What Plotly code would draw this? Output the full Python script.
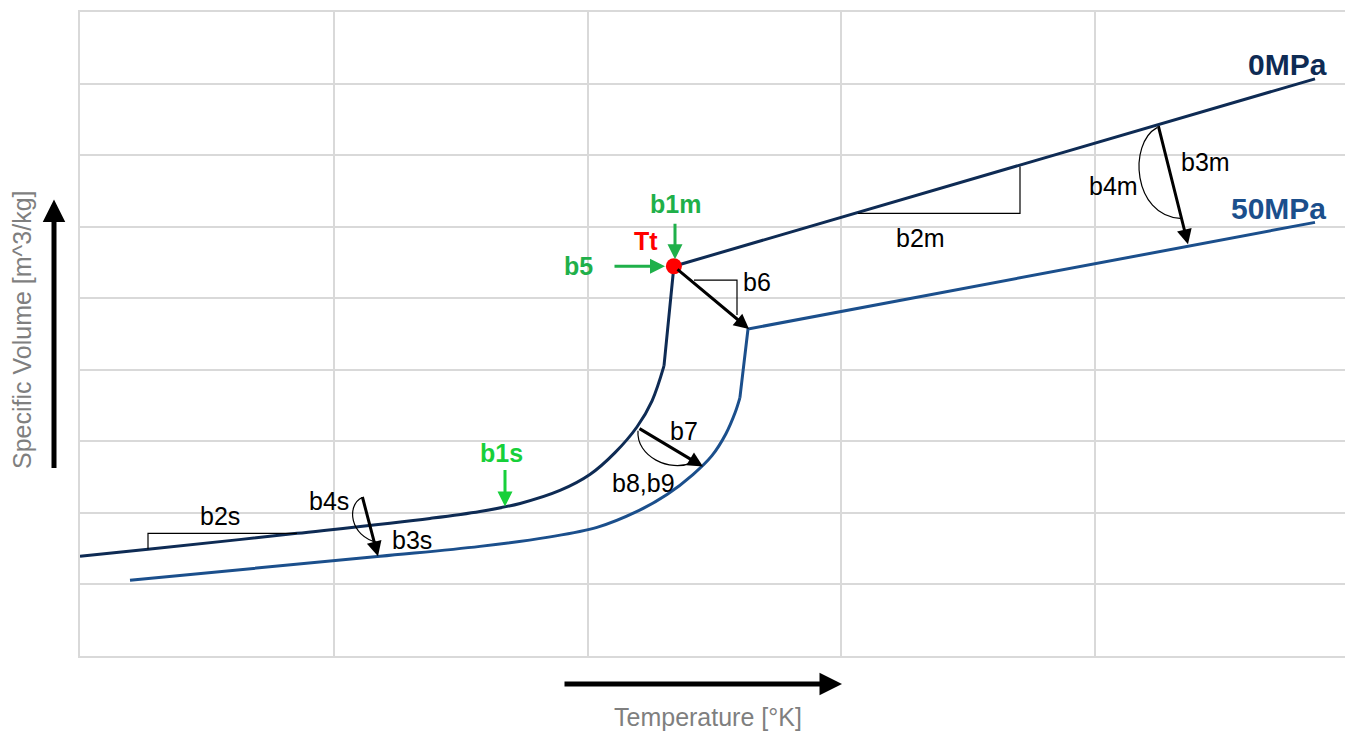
import plotly.graph_objects as go

# ---- data (schematic units: x 0..5, y 0..9) ----
low0_x = [0.000, 0.268, 0.855, 1.379, 1.576, 1.734, 1.891, 2.009, 2.108, 2.195, 2.254, 2.301]
low0_y = [1.393, 1.491, 1.714, 1.923, 2.020, 2.132, 2.313, 2.536, 2.842, 3.204, 3.567, 4.054]
high0_x = [2.301, 2.340, 4.866]
high0_y = [4.054, 5.447, 8.066]

low50_x = [0.197, 1.182, 1.576, 1.840, 2.037, 2.195, 2.313, 2.415, 2.490, 2.545, 2.581, 2.600]
low50_y = [1.059, 1.393, 1.532, 1.658, 1.797, 2.020, 2.257, 2.536, 2.800, 3.107, 3.399, 3.608]
high50_x = [2.600, 2.632, 4.866]
high50_y = [3.608, 4.570, 6.060]

tt_x = [2.340]
tt_y = [5.447]

C0 = "#0e2b54"
C50 = "#1b4f8c"
GREEN = "#1fb04a"
GREEN2 = "#17d03a"
FONT = "Liberation Sans, Arial, sans-serif"

# page offset from default body margin
OFF = 8
W, H = 1353 - OFF, 734 - OFF
# plot-area pixel geometry in page pixels (for placing annotations)
L, R, T, B = 80, 1349, 10, 656
def dx(px):
    return (px - L) / (R - L) * 5
def dy(py):
    return (B - py) / (B - T) * 9
def px_(px):
    return (px - L) / (R - L)
def py_(py):
    return (B - py) / (B - T)

fig = go.Figure()
fig.add_trace(go.Scatter(x=low0_x, y=low0_y, mode="lines", line=dict(color=C0, width=3, shape="spline", smoothing=1.0), hoverinfo="skip"))
fig.add_trace(go.Scatter(x=high0_x, y=high0_y, mode="lines", line=dict(color=C0, width=3), hoverinfo="skip"))
fig.add_trace(go.Scatter(x=low50_x, y=low50_y, mode="lines", line=dict(color=C50, width=3, shape="spline", smoothing=1.0), hoverinfo="skip"))
fig.add_trace(go.Scatter(x=high50_x, y=high50_y, mode="lines", line=dict(color=C50, width=3), hoverinfo="skip"))

anns = []
def label(text, px, py, color="black", bold=False, size=25):
    t = "<b>%s</b>" % text if bold else text
    anns.append(dict(x=dx(px), y=dy(py), text=t, showarrow=False,
                     font=dict(family=FONT, size=size, color=color),
                     xanchor="center", yanchor="middle"))

def arrow(x0, y0, x1, y1, color="black", width=3, size=1.0):
    anns.append(dict(x=dx(x1), y=dy(y1), ax=dx(x0), ay=dy(y0), xref="x", yref="y",
                     axref="x", ayref="y", text="", showarrow=True,
                     arrowhead=2, arrowsize=size, arrowwidth=width, arrowcolor=color))

# black arrows
arrow(676, 267, 749, 328)
arrow(638, 427, 703, 466)
arrow(362, 495, 378, 556)
arrow(1158, 123, 1188, 243)
# green arrows
arrow(505, 468, 505, 506, color=GREEN2, width=3)
arrow(675, 221, 675, 258, color=GREEN, width=3)
arrow(613, 265, 665, 265, color=GREEN, width=3)

# text labels
label("b2s", 220, 516)
label("b4s", 329, 501)
label("b3s", 412, 540)
label("b7", 684, 430)
label("b8,b9", 643, 482)
label("b6", 757, 281)
label("b2m", 920, 237)
label("b3m", 1205, 160)
label("b4m", 1113, 185)
label("b1s", 501, 452, color=GREEN2, bold=True)
label("b1m", 675, 203, color=GREEN, bold=True)
label("b5", 578, 265, color=GREEN, bold=True)
label("Tt", 646, 240, color="#ff0000", bold=True)
label("0MPa", 1287, 63, color=C0, bold=True, size=30)
label("50MPa", 1278, 207, color=C50, bold=True, size=30)

# axis arrows and titles (outside the plot area)
anns.append(dict(x=px_(54), y=py_(198), ax=0, ay=270, xref="paper", yref="paper",
                 axref="pixel", ayref="pixel", text="", showarrow=True,
                 arrowhead=2, arrowsize=0.9, arrowwidth=5, arrowcolor="black"))
anns.append(dict(x=px_(842), y=py_(684), ax=-279, ay=0, xref="paper", yref="paper",
                 axref="pixel", ayref="pixel", text="", showarrow=True,
                 arrowhead=2, arrowsize=0.9, arrowwidth=5, arrowcolor="black"))
anns.append(dict(x=px_(22), y=py_(329), xref="paper", yref="paper", text="Specific Volume [m^3/kg]",
                 textangle=-90, showarrow=False, font=dict(family=FONT, size=25, color="#7f7f7f"),
                 xanchor="center", yanchor="middle"))
anns.append(dict(x=px_(708), y=py_(717), xref="paper", yref="paper", text="Temperature [°K]",
                 showarrow=False, font=dict(family=FONT, size=25, color="#7f7f7f"),
                 xanchor="center", yanchor="middle"))

shapes = []
def poly(pts):
    d = "M %f %f " % (dx(pts[0][0]), dy(pts[0][1]))
    for p in pts[1:]:
        d += "L %f %f " % (dx(p[0]), dy(p[1]))
    shapes.append(dict(type="path", path=d, xref="x", yref="y", line=dict(color="black", width=1.2)))

def curve(p0, c1, c2, p1):
    d = "M %f %f C %f %f, %f %f, %f %f" % (dx(p0[0]), dy(p0[1]), dx(c1[0]), dy(c1[1]),
                                        dx(c2[0]), dy(c2[1]), dx(p1[0]), dy(p1[1]))
    shapes.append(dict(type="path", path=d, xref="x", yref="y", line=dict(color="black", width=1.2)))

poly([(148, 549), (148, 533), (297, 533)])
poly([(694, 279), (737, 279), (737, 314)])
poly([(858, 212), (1020, 212), (1020, 165)])
curve((362, 497), (346, 505), (350, 536), (377, 542))
curve((638, 430), (636, 456), (670, 472), (692, 462))
curve((1157, 126), (1128, 142), (1133, 214), (1180, 217))

fig.add_trace(go.Scatter(x=tt_x, y=tt_y, mode="markers", marker=dict(color="#ff0000", size=16), hoverinfo="skip"))

axis = dict(showticklabels=False, showgrid=True, gridcolor="#d9d9d9", gridwidth=1.5,
            zeroline=False, showline=True, linecolor="#d9d9d9", linewidth=1.5, mirror=True,
            ticks="", fixedrange=True)
fig.update_layout(
    width=W, height=H, autosize=False,
    margin=dict(l=L - OFF, r=1353 - R, t=T - OFF, b=734 - B),
    paper_bgcolor="white", plot_bgcolor="white", showlegend=False,
    xaxis=dict(range=[0, 5], dtick=1, **axis),
    yaxis=dict(range=[0, 9], dtick=1, **axis),
    annotations=anns, shapes=shapes,
)
fig.write_html("out.html")
